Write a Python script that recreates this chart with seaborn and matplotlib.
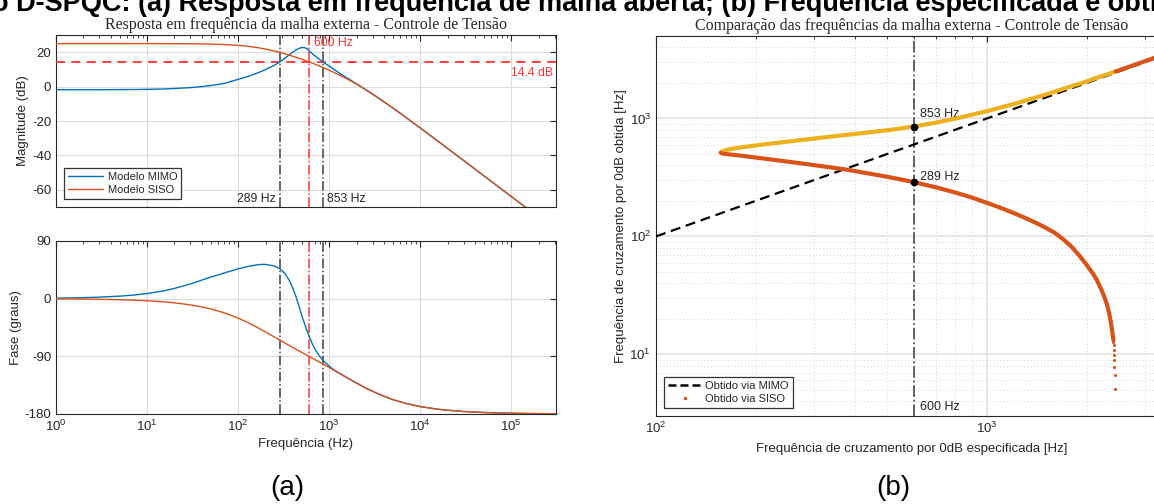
import numpy as np
import pandas as pd
import matplotlib
matplotlib.use("Agg")
import matplotlib.pyplot as plt
from matplotlib.lines import Line2D
from matplotlib.ticker import LogLocator, NullFormatter
import seaborn as sns

# ---------------- data: open-loop frequency response ----------------
freq_hz = [1, 1.5, 2, 3, 5, 7, 10, 15, 20, 30, 40, 50, 70, 100, 130, 170, 200, 250,
           289, 330, 370, 400, 430, 460, 490, 510, 540, 570, 600, 650, 700, 780, 853,
           950, 1100, 1300, 1500, 1800, 2200, 2700, 3500, 5000, 7000, 1e4, 1.5e4, 2e4,
           3e4, 5e4, 7e4, 1e5, 1.5e5, 2e5, 3.1e5]

mag_siso_db = [25.0, 25.0, 25.0, 25.0, 25.0, 24.99, 24.99, 24.97, 24.95, 24.9, 24.82,
               24.72, 24.47, 23.97, 23.38, 22.51, 21.83, 20.70, 19.85, 18.99, 18.20,
               17.63, 17.09, 16.57, 16.06, 15.74, 15.26, 14.81, 14.4, 13.66, 12.99,
               11.99, 11.12, 10.05, 8.52, 6.68, 5.01, 2.74, 0.08, -2.82, -6.73, -12.40,
               -17.98, -24.02, -30.99, -35.96, -42.98, -51.85, -57.68, -63.88, -70.92,
               -76.0, -83.5]

mag_mimo_db = [-1.8, -1.8, -1.8, -1.8, -1.75, -1.7, -1.6, -1.4, -1.1, -0.6, 0.0, 0.6,
               1.8, 4.2, 6.0, 8.3, 9.9, 12.4, 14.4, 16.7, 18.8, 20.1, 21.2, 22.1, 22.6,
               22.8, 22.6, 22.0, 21.0, 19.2, 17.8, 15.9, 14.4, 12.7, 10.4, 7.8, 5.7,
               3.1, 0.2, -2.8, -6.73, -12.40, -17.98, -24.02, -30.99, -35.96, -42.98,
               -51.85, -57.68, -63.88, -70.92, -76.0, -83.5]

phase_siso_deg = [-0.33, -0.49, -0.65, -0.98, -1.62, -2.27, -3.25, -4.86, -6.48, -9.68,
                  -12.83, -15.93, -21.92, -30.25, -37.72, -46.34, -51.91, -59.77, -64.89,
                  -69.56, -73.55, -76.24, -78.73, -81.03, -83.17, -84.53, -86.45, -88.28,
                  -90.02, -92.71, -95.21, -98.88, -101.93, -105.64, -110.76, -116.64,
                  -121.70, -128.11, -134.95, -141.52, -149.02, -157.51, -163.61, -168.43,
                  -172.25, -174.17, -176.11, -177.67, -178.33, -178.83, -179.23, -179.41,
                  -179.62]

phase_mimo_deg = [0.8, 1.2, 1.6, 2.4, 3.9, 5.5, 8.0, 12.0, 16.0, 23.0, 29.0, 33.5, 40.0,
                  46.5, 50.5, 53.3, 53.5, 51.0, 46.5, 38.5, 27.0, 16.0, 4.0, -9.0, -22.0,
                  -30.0, -40.0, -50.0, -58.0, -70.0, -79.0, -89.0, -96.0, -102.5, -110.0,
                  -116.5, -121.7, -128.11, -134.95, -141.52, -149.02, -157.51, -163.61,
                  -168.43, -172.25, -174.17, -176.11, -177.67, -178.33, -178.83, -179.23,
                  -179.41, -179.62]

# design markers
f_spec = 600.0        # specified crossover
f_low = 289.0         # lower crossover obtained
f_high = 853.0        # upper crossover obtained
gain_ref_db = 14.4    # SISO gain at the specified crossover

# ---------------- data: specified vs obtained crossover ----------------
mimo_spec = [100, 3500]
mimo_obt = [100, 3500]

upper_spec = [157, 157.5, 159, 162, 170, 185, 210, 250, 300, 370, 450, 520, 600, 700,
              800, 1000, 1200, 1500, 1900, 2450]
upper_obt = [513, 520, 528, 538, 553, 573, 600, 636, 675, 722, 768, 805, 853, 921,
             995, 1152, 1321, 1589, 1966, 2503]

lower_spec = [157, 157.5, 159, 165, 180, 200, 231, 295, 377, 470, 530, 600, 700, 800,
              900, 1000, 1100, 1200, 1300, 1400, 1500, 1600, 1700, 1800, 1900, 2000,
              2100, 2150, 2200, 2250, 2300, 2340, 2370, 2395, 2410]
lower_obt = [513, 507, 503, 497, 484, 466, 443, 405, 368, 330, 310, 289, 261, 236,
             213.5, 192.5, 174.5, 158.5, 144, 131, 119, 107.5, 94.5, 82, 69, 57.5,
             47.5, 42.5, 37, 32, 27, 22.3, 18.5, 15.1, 13.2]

single_spec = [2450, 3000, 3500]
single_obt = [2503, 3054, 3556]

tail_spec = [2412, 2414, 2418, 2421, 2424, 2428, 2432, 2438]
tail_obt = [12.6, 12.0, 10.9, 9.9, 8.95, 7.85, 6.7, 5.1]

# ---------------- style ----------------
sns.set_theme(style="white")
plt.rcParams["font.family"] = ["Liberation Sans", "DejaVu Sans"]
plt.rcParams["axes.unicode_minus"] = False
plt.rcParams["axes.edgecolor"] = "#262626"
plt.rcParams["axes.linewidth"] = 0.8
plt.rcParams["xtick.color"] = "#262626"
plt.rcParams["ytick.color"] = "#262626"
plt.rcParams["text.color"] = "#262626"

C_BLUE = "#0072BD"
C_ORANGE = "#D95319"
C_YELLOW = "#EDB120"
C_RED = "#FF3030"
C_DARK = "#404040"

W, H = 1154, 504
fig = plt.figure(figsize=(W / 100, H / 100), dpi=100)


def px_axes(x0, y0, x1, y1):
    return fig.add_axes([x0 / W, 1 - y1 / H, (x1 - x0) / W, (y1 - y0) / H])


ax_mag = px_axes(56, 35, 556, 207)
ax_ph = px_axes(56, 241, 556, 414)
ax_cmp = px_axes(656, 36, 1167, 416)

bode = pd.DataFrame({
    "f": freq_hz * 2,
    "mag": mag_mimo_db + mag_siso_db,
    "fase": phase_mimo_deg + phase_siso_deg,
    "modelo": ["Modelo MIMO"] * len(freq_hz) + ["Modelo SISO"] * len(freq_hz),
})
palette = {"Modelo MIMO": C_BLUE, "Modelo SISO": C_ORANGE}

serif_title = dict(family=["Liberation Serif", "DejaVu Serif"], fontsize=11.5)

for ax in (ax_mag, ax_ph):
    ax.set_xscale("log")
    ax.set_xlim(1, 3.1e5)
    ax.xaxis.set_minor_locator(LogLocator(base=10, subs=np.arange(2, 10), numticks=20))
    ax.xaxis.set_minor_formatter(NullFormatter())
    ax.tick_params(which="both", direction="in", top=True, right=True, labelsize=9.5)
    ax.tick_params(which="major", length=4, width=0.8)
    ax.tick_params(which="minor", length=2.5, width=0.6)
    ax.grid(True, which="major", color="#dcdcdc", lw=0.8)
    ax.set_axisbelow(True)
    for v, c in ((f_low, C_DARK), (f_spec, C_RED), (f_high, C_DARK)):
        ax.axvline(v, color=c, lw=1.1, ls="-.", zorder=3)

sns.lineplot(data=bode, x="f", y="mag", hue="modelo", palette=palette, lw=1.0,
             estimator=None, sort=False, ax=ax_mag, zorder=4)
ax_mag.set_ylim(-70, 30)
ax_mag.set_yticks([20, 0, -20, -40, -60])
ax_mag.set_xticks([1, 10, 100, 1e3, 1e4, 1e5])
ax_mag.tick_params(labelbottom=False)
ax_mag.set_xlabel("")
ax_mag.set_ylabel("Magnitude (dB)", fontsize=9.5, labelpad=2)
ax_mag.axhline(gain_ref_db, color=C_RED, lw=1.3, ls=(0, (5, 3.5)), zorder=3)
ax_mag.text(f_spec * 1.15, 25.5, f"{f_spec:.0f} Hz", color=C_RED, fontsize=8.8,
            va="center", ha="left")
ax_mag.text(2.9e5, 8.0, f"{gain_ref_db} dB", color=C_RED, fontsize=8.8,
            va="center", ha="right")
ax_mag.text(f_low * 0.9, -65.5, f"{f_low:.0f} Hz", fontsize=8.8, va="center", ha="right")
ax_mag.text(f_high * 1.1, -65.5, f"{f_high:.0f} Hz", fontsize=8.8, va="center", ha="left")
ax_mag.set_title("Resposta em frequência da malha externa - Controle de Tensão",
                 pad=4, **serif_title)
leg = ax_mag.legend(loc="lower left", fontsize=8, frameon=True, fancybox=False,
                    edgecolor="#333333", framealpha=1, handlelength=3.2,
                    borderaxespad=0.7, borderpad=0.35, labelspacing=0.3,
                    handletextpad=0.4)
leg.get_frame().set_linewidth(0.9)
for h in leg.legend_handles:
    h.set_linewidth(1.0)

sns.lineplot(data=bode, x="f", y="fase", hue="modelo", palette=palette, lw=1.0,
             estimator=None, sort=False, ax=ax_ph, legend=False, zorder=4)
ax_ph.set_ylim(-180, 90)
ax_ph.set_yticks([90, 0, -90, -180])
ax_ph.set_xticks([1, 10, 100, 1e3, 1e4, 1e5])
ax_ph.set_xlabel("Frequência (Hz)", fontsize=9.5, labelpad=3)
ax_ph.set_ylabel("Fase (graus)", fontsize=9.5, labelpad=2)

# ---------------- specified vs obtained ----------------
ax = ax_cmp
ax.set_xscale("log")
ax.set_yscale("log")
ax.set_xlim(100, 3500)
ax.set_ylim(3, 5000)
ax.xaxis.set_minor_locator(LogLocator(base=10, subs=np.arange(2, 10), numticks=20))
ax.yaxis.set_minor_locator(LogLocator(base=10, subs=np.arange(2, 10), numticks=20))
ax.xaxis.set_minor_formatter(NullFormatter())
ax.yaxis.set_minor_formatter(NullFormatter())
ax.tick_params(which="both", direction="in", top=True, right=True, labelsize=9.5)
ax.tick_params(which="major", length=4, width=0.8)
ax.tick_params(which="minor", length=2.5, width=0.6)
ax.grid(True, which="major", color="#e2e2e2", lw=1.2)
ax.grid(True, which="minor", color="#d4d4d4", lw=0.7, ls=(0, (1, 2.5)))
ax.set_axisbelow(True)

ax.axvline(f_spec, color="#555555", lw=1.3, ls="-.", zorder=2)

sns.lineplot(x=mimo_spec, y=mimo_obt, color="black", lw=1.6, ax=ax,
             estimator=None, zorder=3, linestyle=(0, (4.5, 2.6)))
sns.lineplot(x=upper_spec, y=upper_obt, color=C_YELLOW, lw=3.0, ax=ax,
             estimator=None, sort=False, zorder=4, solid_capstyle="round")
sns.lineplot(x=lower_spec, y=lower_obt, color=C_ORANGE, lw=3.0, ax=ax,
             estimator=None, sort=False, zorder=4, solid_capstyle="round")
sns.lineplot(x=single_spec, y=single_obt, color=C_ORANGE, lw=3.0, ax=ax,
             estimator=None, sort=False, zorder=4, solid_capstyle="round")
sns.scatterplot(x=tail_spec, y=tail_obt, color=C_ORANGE, s=5, linewidth=0, ax=ax,
                zorder=4)

ax.plot([f_spec, f_spec], [f_high, f_low], ls="none", marker="o", ms=4.5,
        color="black", zorder=5)
ax.text(f_spec * 1.045, f_high * 1.27, f"{f_high:.0f} Hz", fontsize=9, va="center")
ax.text(f_spec * 1.045, f_low * 1.11, f"{f_low:.0f} Hz", fontsize=9, va="center")
ax.text(f_spec * 1.045, 3.6, f"{f_spec:.0f} Hz", fontsize=9, va="center")

ax.set_xlabel("Frequência de cruzamento por 0dB especificada [Hz]", fontsize=9.5,
              labelpad=5)
ax.set_ylabel("Frequência de cruzamento por 0dB obtida [Hz]", fontsize=9.5, labelpad=2)
ax.set_title("Comparação das frequências da malha externa - Controle de Tensão",
             pad=4, **serif_title)

handles = [Line2D([], [], color="black", lw=1.8, ls=(0, (3.2, 1.6))),
           Line2D([], [], color=C_ORANGE, ls="none", marker=".", ms=3)]
leg2 = ax.legend(handles, ["Obtido via MIMO", "Obtido via SISO"], loc="lower left",
                 fontsize=8, frameon=True, fancybox=False, edgecolor="#333333",
                 framealpha=1, handlelength=3.2, borderaxespad=0.7, borderpad=0.35,
                 labelspacing=0.3, handletextpad=0.2)
leg2.get_frame().set_linewidth(0.9)

# ---------------- figure captions ----------------
fig.text(-8 / W, 1 - 11 / H,
         "o D-SPQC: (a) Resposta em frequência de malha aberta; "
         "(b) Frequência especificada e obtida",
         fontsize=19.5, fontweight="bold", ha="left", va="baseline", color="black")
fig.text(287 / W, 1 - 488 / H, "(a)", fontsize=20, ha="center", va="center",
         color="black")
fig.text(893 / W, 1 - 488 / H, "(b)", fontsize=20, ha="center", va="center",
         color="black")

fig.savefig("out.png", dpi=100)
